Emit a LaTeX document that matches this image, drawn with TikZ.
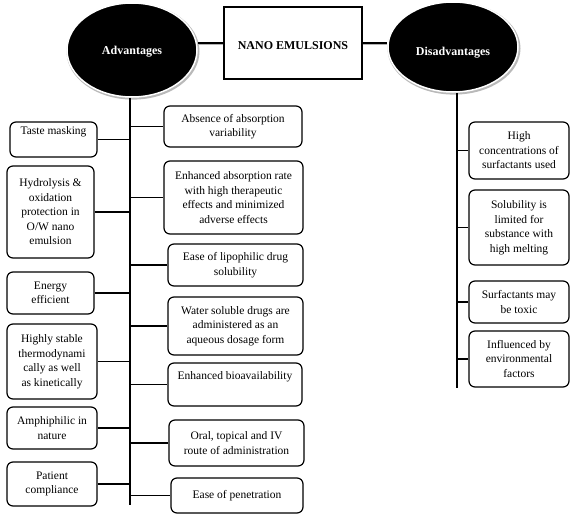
\documentclass[tikz,border=0pt]{standalone}
\usepackage{fontspec}
\setmainfont{Liberation Serif}
\usetikzlibrary{shapes.geometric}
\begin{document}
\begin{tikzpicture}[x=1pt,y=-1pt,
  box/.style={draw, line width=1.2pt, rounded corners=6pt, align=center, inner sep=1pt, fill=white,
              font=\fontsize{11.5}{14.5}\selectfont},
  conn/.style={line width=1.2pt},
  shadowline/.style={draw=gray!60, line width=1.2pt},
  oval/.style={ellipse, fill=black, draw=white, line width=1.5pt, text=white, inner sep=0pt,
               font=\bfseries\fontsize{12}{14}\selectfont},
  titlebox/.style={draw, line width=1.2pt, fill=white, font=\bfseries\fontsize{12}{14}\selectfont}]
\useasboundingbox (0,0) rectangle (581,522);

% ellipse shadows
\fill[gray!55] (133,51.3) ellipse [x radius=66.5pt, y radius=48.3pt];
\fill[gray!55] (454,48.3) ellipse [x radius=66.5pt, y radius=46.3pt];

% top row
\node[oval, minimum width=130pt, minimum height=94pt, text height=9.5pt, text depth=0pt] (adv) at (132,50) {Advantages};
\node[oval, minimum width=130pt, minimum height=90pt, text height=17pt, text depth=0pt] (dis) at (453,47) {Disadvantages};
\node[titlebox, minimum width=138pt, minimum height=72pt, text height=13pt, text depth=0pt] (title) at (293,43) {NANO EMULSIONS};

\draw[shadowline] ([yshift=-1.6pt]title.west) -- ([yshift=-1.6pt]title.west -| adv.east);
\draw[conn] (title.west) -- (title.west -| adv.east);
\draw[shadowline] ([yshift=-1.6pt]title.east) -- ([yshift=-1.6pt]title.east -| dis.west);
\draw[conn] (title.east) -- (title.east -| dis.west);

% advantages, right column
\node[box, minimum width=138pt, minimum height=41pt] (absence) at (233,126.5) {Absence of absorption\\variability};
\node[box, minimum width=139pt, minimum height=73pt] (enhabs) at (233.5,197.5) {Enhanced absorption rate\\with high therapeutic\\effects and minimized\\adverse effects};
\node[box, minimum width=135pt, minimum height=42pt] (lipo) at (235.5,265) {Ease of lipophilic drug\\solubility};
\node[box, minimum width=135pt, minimum height=58pt] (water) at (235.5,326) {Water soluble drugs are\\administered as an\\aqueous dosage form};
\node[box, minimum width=134pt, minimum height=43pt] (bioav) at (235,384.5) {Enhanced bioavailability\\\strut};
\node[box, minimum width=135pt, minimum height=46pt] (oral) at (236.5,443) {Oral, topical and IV\\route of administration};
\node[box, minimum width=132pt, minimum height=35pt] (penet) at (237,495.5) {Ease of penetration};

% advantages, left column
\node[box, minimum width=87pt, minimum height=35pt] (taste) at (53.5,139.5) {Taste masking\\\strut};
\node[box, minimum width=87pt, minimum height=92pt] (hydro) at (50.5,212) {Hydrolysis \&\\oxidation\\protection in\\O/W nano\\emulsion};
\node[box, minimum width=87pt, minimum height=42pt] (energy) at (50.5,293) {Energy\\efficient};
\node[box, minimum width=90pt, minimum height=75pt] (stable) at (52,361.5) {Highly stable\\thermodynami\\cally as well\\as kinetically};
\node[box, minimum width=90pt, minimum height=42pt] (amphi) at (52,428) {Amphiphilic in\\nature};
\node[box, minimum width=90pt, minimum height=44pt] (patient) at (52,484) {Patient\\compliance};

% disadvantages
\node[box, minimum width=100pt, minimum height=57pt] (d1) at (519,150.5) {High\\concentrations of\\surfactants used};
\node[box, minimum width=100pt, minimum height=75pt] (d2) at (519,227.5) {Solubility is\\limited for\\substance with\\high melting};
\node[box, minimum width=100pt, minimum height=42pt] (d3) at (519,302) {Surfactants may\\be toxic};
\node[box, minimum width=100pt, minimum height=56pt] (d4) at (519,359) {Influenced by\\environmental\\factors};

% trunks
\coordinate (lend) at (130,505);
\coordinate (rend) at (457,388);
\draw[conn] (adv.south -| lend) -- (lend);
\draw[conn] (dis.south -| rend) -- (rend);

% branches
\foreach \n in {absence,enhabs,lipo,water,bioav,oral,penet}
  \draw[conn] (\n.west -| lend) -- (\n.west);
\foreach \n in {taste,hydro,energy,stable,amphi,patient}
  \draw[conn] (\n.east) -- (\n.east -| lend);
\foreach \n in {d1,d2,d3,d4}
  \draw[conn] (\n.west -| rend) -- (\n.west);
\end{tikzpicture}
\end{document}
